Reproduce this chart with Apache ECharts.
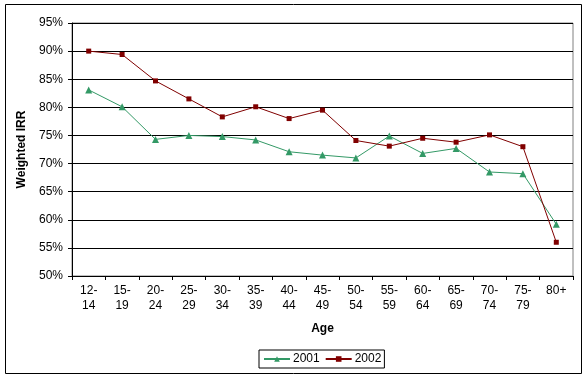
<!DOCTYPE html>
<html><head><meta charset="utf-8">
<script src="https://cdn.jsdelivr.net/npm/echarts@6/dist/echarts.min.js"></script>
<style>html,body{margin:0;padding:0;background:#fff}#c{width:587px;height:378px}</style>
</head><body><div id="c"></div>
<script>
const categories = ["12-\n14","15-\n19","20-\n24","25-\n29","30-\n34","35-\n39","40-\n44","45-\n49","50-\n54","55-\n59","60-\n64","65-\n69","70-\n74","75-\n79","80+"];
const series2001 = [83.1,80.1,74.3,75.0,74.8,74.2,72.1,71.5,71.0,74.9,71.8,72.7,68.5,68.2,59.2];
const series2002 = [90.0,89.4,84.7,81.5,78.3,80.1,78.0,79.5,74.1,73.1,74.5,73.8,75.1,73.0,56.0];
const yMin = 50, yMax = 95, yStep = 5;

const chart = echarts.init(document.getElementById('c'), null, {renderer:'canvas'});
const font = 'Liberation Sans, Arial, sans-serif';
chart.setOption({
  animation:false,
  backgroundColor:'#fff',
  graphic:[{type:'rect',shape:{x:5.5,y:4.5,width:576,height:369},style:{fill:null,stroke:'#000',lineWidth:1},silent:true}],
  grid:{left:72,right:14,top:23,bottom:102,show:true,borderColor:'#808080',borderWidth:1,backgroundColor:'transparent'},
  legend:{
    data:['2001','2002'],orient:'horizontal',left:259,top:350,
    itemWidth:26,itemHeight:7,itemGap:5,padding:[3,3,3,4],
    borderColor:'#000',borderWidth:1,
    textStyle:{fontFamily:font,fontSize:12,color:'#000',padding:[0,0,0,-2]}
  },
  xAxis:{
    type:'category',data:categories,boundaryGap:true,
    name:'Age',nameLocation:'middle',nameGap:47,
    nameTextStyle:{fontFamily:font,fontSize:12,fontWeight:'bold',color:'#000'},
    axisLine:{lineStyle:{color:'#000'}},
    axisTick:{show:true,alignWithLabel:false,length:4,lineStyle:{color:'#000'}},
    axisLabel:{interval:0,fontFamily:font,fontSize:12,color:'#000',margin:7,lineHeight:15},
    splitLine:{show:false}
  },
  yAxis:{
    type:'value',min:yMin,max:yMax,interval:yStep,
    name:'Weighted IRR',nameLocation:'middle',nameGap:44,
    nameTextStyle:{fontFamily:font,fontSize:12,fontWeight:'bold',color:'#000'},
    axisLine:{show:true,lineStyle:{color:'#000'}},
    axisTick:{show:true,length:4,lineStyle:{color:'#000'}},
    axisLabel:{fontFamily:font,fontSize:12,color:'#000',margin:9,formatter:v=>v+'%'},
    splitLine:{show:true,lineStyle:{color:'#000',width:1}}
  },
  series:[
    {name:'2001',type:'line',data:series2001,symbol:'triangle',symbolSize:7,
      itemStyle:{color:'#339966'},lineStyle:{color:'#339966',width:1}},
    {name:'2002',type:'line',data:series2002,symbol:'rect',symbolSize:5,
      itemStyle:{color:'#800000'},lineStyle:{color:'#800000',width:1}}
  ]
});
</script></body></html>
